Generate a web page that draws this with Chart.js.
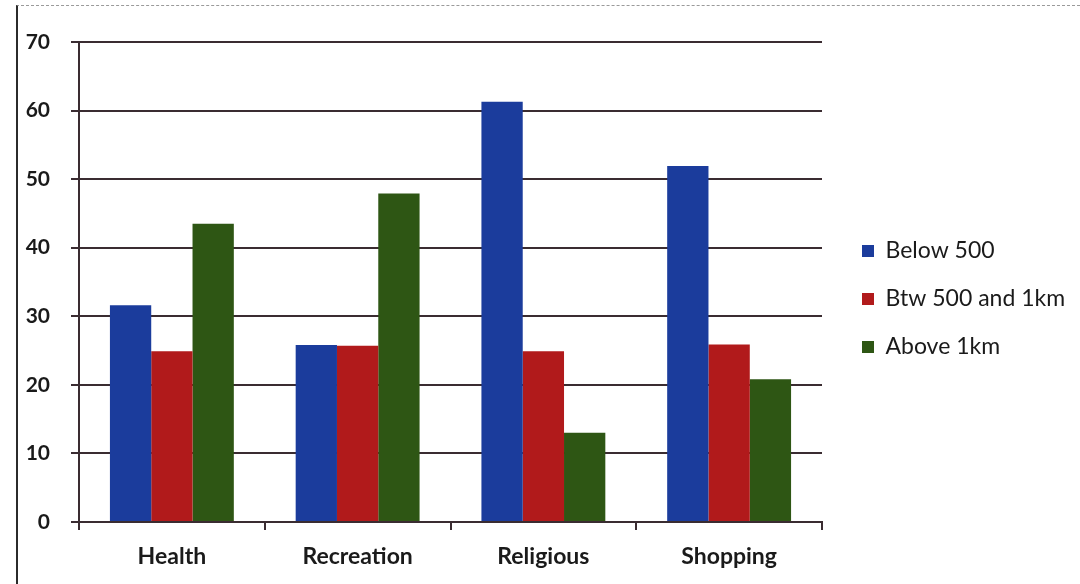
<!DOCTYPE html>
<html>
<head>
<meta charset="utf-8">
<script src="https://cdn.jsdelivr.net/npm/chart.js@4/dist/chart.umd.min.js"></script>
<style>
  html, body { margin: 0; padding: 0; background: #fff; }
  body { width: 1080px; height: 584px; position: relative; overflow: hidden; }
  .frame {
    position: absolute; left: 16px; top: 5px; right: 0; bottom: -4px;
    border-left: 2px solid #2b2b2b; border-top: 1px dashed #9a9a9a;
  }
  .wrap { position: absolute; left: 0; top: 0; width: 1080px; height: 584px; }
</style>
</head>
<body>
<div class="frame"></div>
<div class="wrap"><canvas id="my" width="1080" height="584"></canvas></div>
<script>
// chart data
const categories = ['Health', 'Recreation', 'Religious', 'Shopping'];
const seriesNames = ['Below 500', 'Btw 500 and 1km', 'Above 1km'];
const below500 = [31.6, 25.8, 61.3, 51.9];
const btw500and1km = [24.9, 25.7, 24.9, 25.9];
const above1km = [43.5, 47.9, 13.0, 20.8];
const yMin = 0, yMax = 70, yStep = 10;

const colors = ['#1b3c9c', '#b11a1b', '#2e5614'];
const gridColor = '#3a2c31';
const textColor = '#1a1a1a';

const legendFont = { family: 'Lato', size: 23 };
const legendPad = 25;

function draw() {
  // measure widest legend label so the plot ends near x = 822
  const mctx = document.createElement('canvas').getContext('2d');
  mctx.font = legendFont.size + 'px ' + legendFont.family;
  let tw = 0;
  for (const s of seriesNames) tw = Math.max(tw, mctx.measureText(s).width);
  const legendWidth = legendPad + 12 + legendFont.size / 2 + tw + 10;
  const rightPad = Math.max(0, 1080 - 837 - legendWidth);

  const ctx = document.getElementById('my');

  new Chart(ctx, {
    type: 'bar',
    data: {
      labels: categories,
      datasets: [
        { label: seriesNames[0], data: below500, backgroundColor: colors[0] },
        { label: seriesNames[1], data: btw500and1km, backgroundColor: colors[1] },
        { label: seriesNames[2], data: above1km, backgroundColor: colors[2] }
      ]
    },
    options: {
      responsive: false,
      animation: false,
      devicePixelRatio: 1,
      layout: { padding: { left: 0, top: 14, right: rightPad, bottom: 0 } },
      datasets: {
        bar: { categoryPercentage: 0.667, barPercentage: 1.0, borderWidth: 0 }
      },
      plugins: {
        tooltip: { enabled: false },
        legend: {
          position: 'right',
          maxWidth: 320,
          labels: {
            boxWidth: 12,
            boxHeight: 12,
            padding: legendPad,
            color: textColor,
            font: legendFont
          }
        }
      },
      scales: {
        x: {
          grid: {
            display: true,
            drawOnChartArea: false,
            drawTicks: true,
            tickLength: 8,
            color: gridColor,
            lineWidth: 2
          },
          border: { display: true, color: gridColor, width: 2 },
          ticks: {
            color: textColor,
            padding: 13,
            font: { family: 'Lato', size: 23, weight: 'bold' }
          },
          afterFit: function(s) { s.height = 62; }
        },
        y: {
          min: yMin,
          max: yMax,
          ticks: {
            stepSize: yStep,
            color: textColor,
            padding: 21,
            font: { family: 'Lato', size: 21, weight: 'bold' }
          },
          grid: {
            color: gridColor,
            lineWidth: 2,
            tickLength: 8
          },
          border: { display: true, color: gridColor, width: 2 },
          afterFit: function(s) { s.width = 79; }
        },
        spacerTop: {
          type: 'linear',
          position: 'top',
          display: true,
          grid: { display: false },
          border: { display: false },
          ticks: { display: false },
          afterFit: function(s) { s.height = 28; }
        },
        spacerRight: {
          type: 'linear',
          position: 'right',
          display: true,
          grid: { display: false },
          border: { display: false },
          ticks: { display: false },
          afterFit: function(s) { s.width = 15; }
        }
      }
    }
  });
}

Promise.all([
  document.fonts.load('23px Lato'),
  document.fonts.load('bold 23px Lato')
]).then(draw, draw);
</script>
</body>
</html>
